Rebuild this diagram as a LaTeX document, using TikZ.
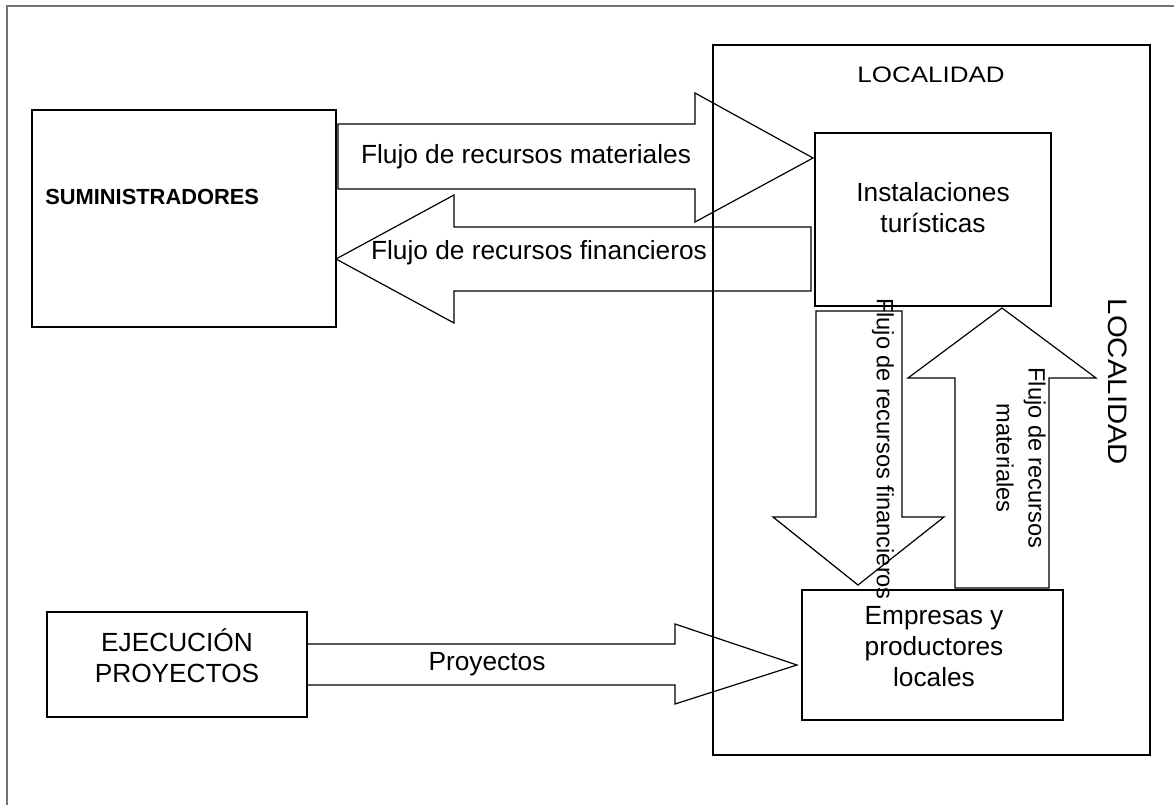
\documentclass[tikz,border=0pt]{standalone}
\usepackage{fontspec}
\setmainfont{Liberation Sans}
\usetikzlibrary{fit}
\begin{document}
\begin{tikzpicture}[x=0.75pt,y=-0.75pt,
  box/.style={draw=black, line width=1.1pt, inner sep=0pt},
  bigbox/.style={draw=black, line width=1.4pt, inner sep=0pt},
  blk/.style={draw=black, line width=0.9pt, line join=miter},
  lbl/.style={inner sep=0pt, font=\fontsize{19.7}{23.25}\selectfont, align=center},
  vlbl/.style={inner sep=0pt, font=\fontsize{17.7}{24}\selectfont, align=center, rotate=-90},
  frame/.style={draw=black!55, line width=1.5pt}]
\useasboundingbox (0,0) rectangle (1174,805);
% outer frame (cut off at right and bottom)
\coordinate (fb) at (7,805);
\coordinate (ftl) at (7,6);
\coordinate (fr) at (1174,6);
\draw[frame] (fb) -- (ftl) -- (fr);

% boxes
\node[bigbox, fit={(713,45) (1150,755)}] (loc) {};
\node[box, fit={(32,110) (336,327)}] (sum) {};
\node[box, fit={(815,133) (1051,306)}] (inst) {};
\node[box, fit={(802,590) (1063,720)}] (emp) {};
\node[box, fit={(47,612) (307,717)}] (eje) {};

% box texts
\node[inner sep=0pt, anchor=west, font=\fontsize{16.4}{19}\selectfont\bfseries] (sumt) at (45,197) {SUMINISTRADORES};
\node[lbl] (instt) at (933,208) {Instalaciones\\turísticas};
\node[lbl] (empt) at (934,647) {Empresas y\\productores\\locales};
\node[lbl] (ejet) at (177,656) {EJECUCIÓN\\PROYECTOS};
\node[inner sep=0pt, font=\fontsize{16.8}{20}\selectfont] (loct) at (931,75) {\scalebox{1.16}[1]{LOCALIDAD}};
\node[inner sep=0pt, rotate=-90, font=\fontsize{20}{24}\selectfont] (locv) at (1118,382) {\scalebox{1.1}[1]{LOCALIDAD}};

% block arrows
\draw[blk] (338,124) -- (695,124) -- (695,93) -- (813,158) -- (695,222) -- (695,189) -- (338,189) -- cycle;
\draw[blk] (811,227) -- (454,227) -- (454,195) -- (336,259) -- (454,323) -- (454,291) -- (811,291) -- cycle;
\draw[blk] (816,311) -- (902,311) -- (902,517) -- (944,517) -- (858,585) -- (773,517) -- (816,517) -- cycle;
\draw[blk] (955,588) -- (955,378) -- (908,378) -- (1002,308) -- (1096,378) -- (1049,378) -- (1049,588) -- cycle;
\draw[blk] (307,644) -- (675,644) -- (675,624) -- (797,665) -- (675,704) -- (675,685) -- (307,685) -- cycle;

% arrow labels
\node[lbl] (a1) at (526,157) {Flujo de recursos materiales};
\node[lbl] (a2) at (539,253) {Flujo de recursos financieros};
\node[lbl] (a3) at (487,664) {Proyectos};
\node[vlbl] (a4) at (883,449) {Flujo de recursos financieros};
\node[vlbl] (a5) at (1021,458) {Flujo de recursos\\materiales};
\end{tikzpicture}
\end{document}
